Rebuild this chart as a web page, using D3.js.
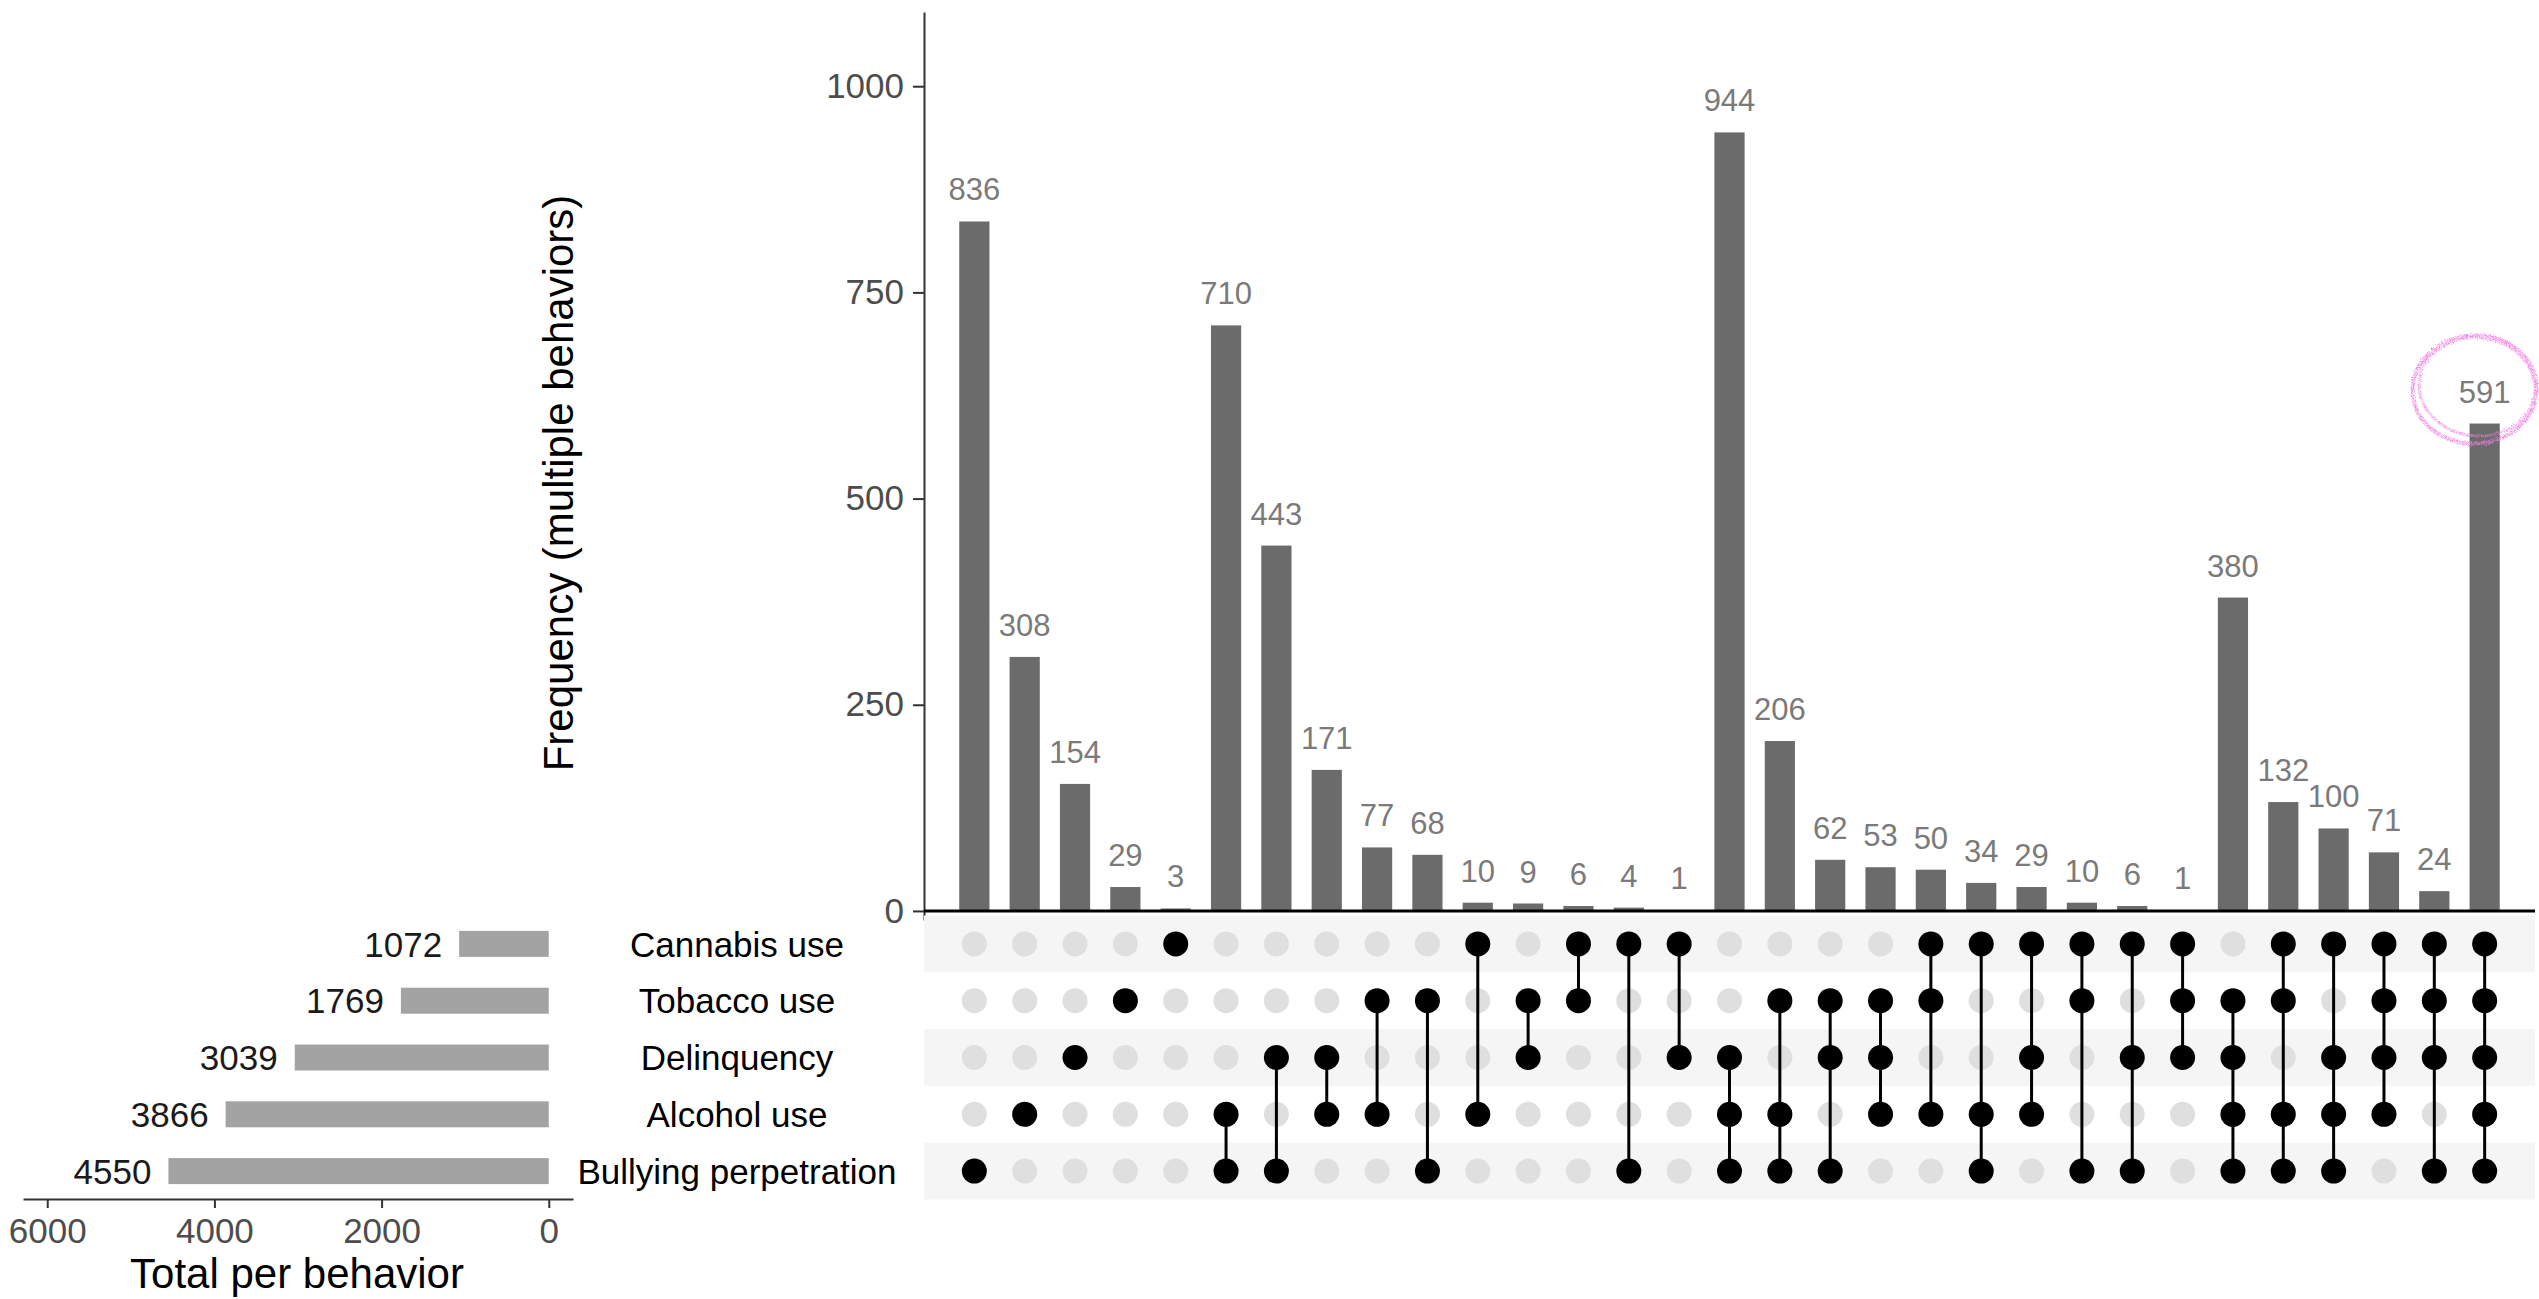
<!DOCTYPE html>
<html>
<head>
<meta charset="utf-8">
<script src="https://cdn.jsdelivr.net/npm/d3@7"></script>
<style>
  html, body { margin: 0; padding: 0; background: #ffffff; }
  svg { display: block; font-family: "Liberation Sans", Arial, Helvetica, sans-serif; }
</style>
</head>
<body>
<svg id="chart" width="2539" height="1299"></svg>
<script>
// Behaviors (matrix rows, top to bottom) and their single-letter codes
const behaviors = ["Cannabis use", "Tobacco use", "Delinquency", "Alcohol use", "Bullying perpetration"];
const behaviorCodes = ["C", "T", "D", "A", "B"];
const behaviorTotals = [1072, 1769, 3039, 3866, 4550];

// Behavior combinations (columns, left to right) and their frequencies
const combinations = [
  "B", "A", "D", "T", "C",
  "AB", "DB", "DA", "TA", "TB", "CA", "TD", "CT", "CB", "CD",
  "DAB", "TAB", "TDB", "TDA", "CTA", "CAB", "CDA", "CTB", "CDB", "CTD",
  "TDAB", "CTAB", "CDAB", "CTDA", "CTDB",
  "CTDAB"
];
const frequencies = [
  836, 308, 154, 29, 3,
  710, 443, 171, 77, 68, 10, 9, 6, 4, 1,
  944, 206, 62, 53, 50, 34, 29, 10, 6, 1,
  380, 132, 100, 71, 24,
  591
];

const freqTicks = [0, 250, 500, 750, 1000];
const totalTicks = [0, 2000, 4000, 6000];

const svg = d3.select("#chart");
svg.append("rect").attr("width", 2539).attr("height", 1299).attr("fill", "#ffffff");

// ---- scales ----
const xCol = d3.scaleBand()
  .domain(d3.range(combinations.length))
  .range([924, 2535])
  .paddingInner(0.4)
  .paddingOuter(0.7);

const yFreq = d3.scaleLinear().domain([-11, 1090]).range([920, 12]);

const yRow = d3.scaleBand().domain(behaviors).range([915.5, 1199.5]);

const xTotal = d3.scaleLinear().domain([-290, 6290]).range([573, 23]);

const colMid = i => xCol(i) + xCol.bandwidth() / 2;
const rowMid = b => yRow(b) + yRow.bandwidth() / 2;
const plain = d3.format("d");

// ---- intersection size bars ----
const barLayer = svg.append("g");

barLayer.selectAll("rect.bar")
  .data(frequencies)
  .join("rect")
  .attr("class", "bar")
  .attr("x", (d, i) => xCol(i))
  .attr("width", xCol.bandwidth())
  .attr("y", d => yFreq(d))
  .attr("height", d => yFreq(0) - yFreq(d))
  .attr("fill", "#6b6b6b");

barLayer.selectAll("text.val")
  .data(frequencies)
  .join("text")
  .attr("class", "val")
  .attr("x", (d, i) => colMid(i))
  .attr("y", d => yFreq(d) - 21)
  .attr("text-anchor", "middle")
  .attr("font-size", 31)
  .attr("fill", "#7a7a7a")
  .text(d => d);

const yAxis = svg.append("g")
  .attr("transform", "translate(924,0)")
  .call(d3.axisLeft(yFreq).tickValues(freqTicks).tickFormat(plain)
    .tickSize(11).tickSizeOuter(0).tickPadding(9));
yAxis.select(".domain").attr("stroke", "#333333").attr("stroke-width", 2);
yAxis.selectAll(".tick line").attr("stroke", "#333333").attr("stroke-width", 2);
yAxis.selectAll(".tick text")
  .attr("font-size", 35)
  .attr("fill", "#4d4d4d")
  .attr("font-family", "Liberation Sans, Arial, sans-serif");

// zero baseline
svg.append("line")
  .attr("x1", 924).attr("x2", 2535)
  .attr("y1", yFreq(0)).attr("y2", yFreq(0))
  .attr("stroke", "#000000").attr("stroke-width", 3);

svg.append("text")
  .attr("transform", "translate(573,483) rotate(-90)")
  .attr("text-anchor", "middle")
  .attr("font-size", 42)
  .attr("fill", "#000000")
  .text("Frequency (multiple behaviors)");

// ---- membership matrix ----
const matrix = svg.append("g");

matrix.selectAll("rect.stripe")
  .data(behaviors.filter((b, i) => i % 2 === 0))
  .join("rect")
  .attr("class", "stripe")
  .attr("x", 924)
  .attr("width", 2535 - 924)
  .attr("y", b => yRow(b))
  .attr("height", yRow.bandwidth())
  .attr("fill", "#f5f5f5");

const cells = [];
combinations.forEach((combo, i) => {
  behaviors.forEach((b, j) => {
    cells.push({ i, b, on: combo.includes(behaviorCodes[j]) });
  });
});

matrix.selectAll("circle.off")
  .data(cells.filter(c => !c.on))
  .join("circle")
  .attr("class", "off")
  .attr("cx", c => colMid(c.i))
  .attr("cy", c => rowMid(c.b))
  .attr("r", 12.5)
  .attr("fill", "#dfdfdf");

const links = combinations.map((combo, i) => {
  const members = behaviors.filter((b, j) => combo.includes(behaviorCodes[j]));
  return { i, members };
}).filter(l => l.members.length > 1);

matrix.selectAll("line.link")
  .data(links)
  .join("line")
  .attr("class", "link")
  .attr("x1", l => colMid(l.i)).attr("x2", l => colMid(l.i))
  .attr("y1", l => rowMid(l.members[0]))
  .attr("y2", l => rowMid(l.members[l.members.length - 1]))
  .attr("stroke", "#000000")
  .attr("stroke-width", 3);

matrix.selectAll("circle.on")
  .data(cells.filter(c => c.on))
  .join("circle")
  .attr("class", "on")
  .attr("cx", c => colMid(c.i))
  .attr("cy", c => rowMid(c.b))
  .attr("r", 12.5)
  .attr("fill", "#000000");

// behavior names
svg.selectAll("text.setname")
  .data(behaviors)
  .join("text")
  .attr("class", "setname")
  .attr("x", 737)
  .attr("y", b => rowMid(b))
  .attr("dy", "0.36em")
  .attr("text-anchor", "middle")
  .attr("font-size", 35)
  .attr("fill", "#000000")
  .text(b => b);

// ---- totals per behavior ----
const totalsLayer = svg.append("g");
totalsLayer.selectAll("rect.total")
  .data(behaviorTotals)
  .join("rect")
  .attr("class", "total")
  .attr("x", d => xTotal(d))
  .attr("width", d => xTotal(0) - xTotal(d))
  .attr("y", (d, i) => rowMid(behaviors[i]) - 13)
  .attr("height", 26)
  .attr("fill", "#a3a3a3");

totalsLayer.selectAll("text.totalval")
  .data(behaviorTotals)
  .join("text")
  .attr("class", "totalval")
  .attr("x", d => xTotal(d) - 17)
  .attr("y", (d, i) => rowMid(behaviors[i]))
  .attr("dy", "0.36em")
  .attr("text-anchor", "end")
  .attr("font-size", 35)
  .attr("fill", "#1a1a1a")
  .text(d => d);

const tAxis = svg.append("g")
  .attr("transform", "translate(0,1199)")
  .call(d3.axisBottom(xTotal).tickValues(totalTicks).tickFormat(plain)
    .tickSize(9).tickSizeOuter(0).tickPadding(10));
tAxis.select(".domain").attr("stroke", "#333333").attr("stroke-width", 2);
tAxis.selectAll(".tick line").attr("stroke", "#333333").attr("stroke-width", 2);
tAxis.selectAll(".tick text")
  .attr("font-size", 35)
  .attr("fill", "#4d4d4d")
  .attr("font-family", "Liberation Sans, Arial, sans-serif");

svg.append("text")
  .attr("x", 297)
  .attr("y", 1288)
  .attr("text-anchor", "middle")
  .attr("font-size", 42)
  .attr("fill", "#000000")
  .text("Total per behavior");

// ---- hand-drawn chalky highlight around the full-combination count ----
const defs = svg.append("defs");
const chalk = defs.append("filter").attr("id", "chalk")
  .attr("x", "-20%").attr("y", "-20%").attr("width", "140%").attr("height", "140%");
chalk.append("feTurbulence").attr("type", "fractalNoise").attr("baseFrequency", 0.7)
  .attr("numOctaves", 2).attr("seed", 3).attr("result", "noise");
chalk.append("feDisplacementMap").attr("in", "SourceGraphic").attr("in2", "noise")
  .attr("scale", 4).attr("result", "wobble");
chalk.append("feTurbulence").attr("type", "fractalNoise").attr("baseFrequency", 1.8)
  .attr("numOctaves", 1).attr("seed", 7).attr("result", "grain");
chalk.append("feColorMatrix").attr("in", "grain").attr("type", "matrix")
  .attr("values", "0 0 0 0 0  0 0 0 0 0  0 0 0 0 0  0 0 0 2.2 -0.5").attr("result", "grainAlpha");
chalk.append("feComposite").attr("in", "wobble").attr("in2", "grainAlpha").attr("operator", "in");

const lastCol = combinations.length - 1;
const hx = colMid(lastCol) - 10;
const hy = yFreq(frequencies[lastCol]) - 34;
const ring = svg.append("g").attr("filter", "url(#chalk)").attr("fill", "none").attr("stroke", "#f07ee0");
ring.append("ellipse")
  .attr("cx", hx).attr("cy", hy).attr("rx", 62).attr("ry", 54)
  .attr("stroke-width", 4).attr("opacity", 0.9)
  .attr("transform", `rotate(-4,${hx},${hy})`);
ring.append("ellipse")
  .attr("cx", hx + 2).attr("cy", hy - 3).attr("rx", 58).attr("ry", 49)
  .attr("stroke-width", 3).attr("opacity", 0.7)
  .attr("transform", `rotate(7,${hx},${hy})`);
</script>
</body>
</html>
